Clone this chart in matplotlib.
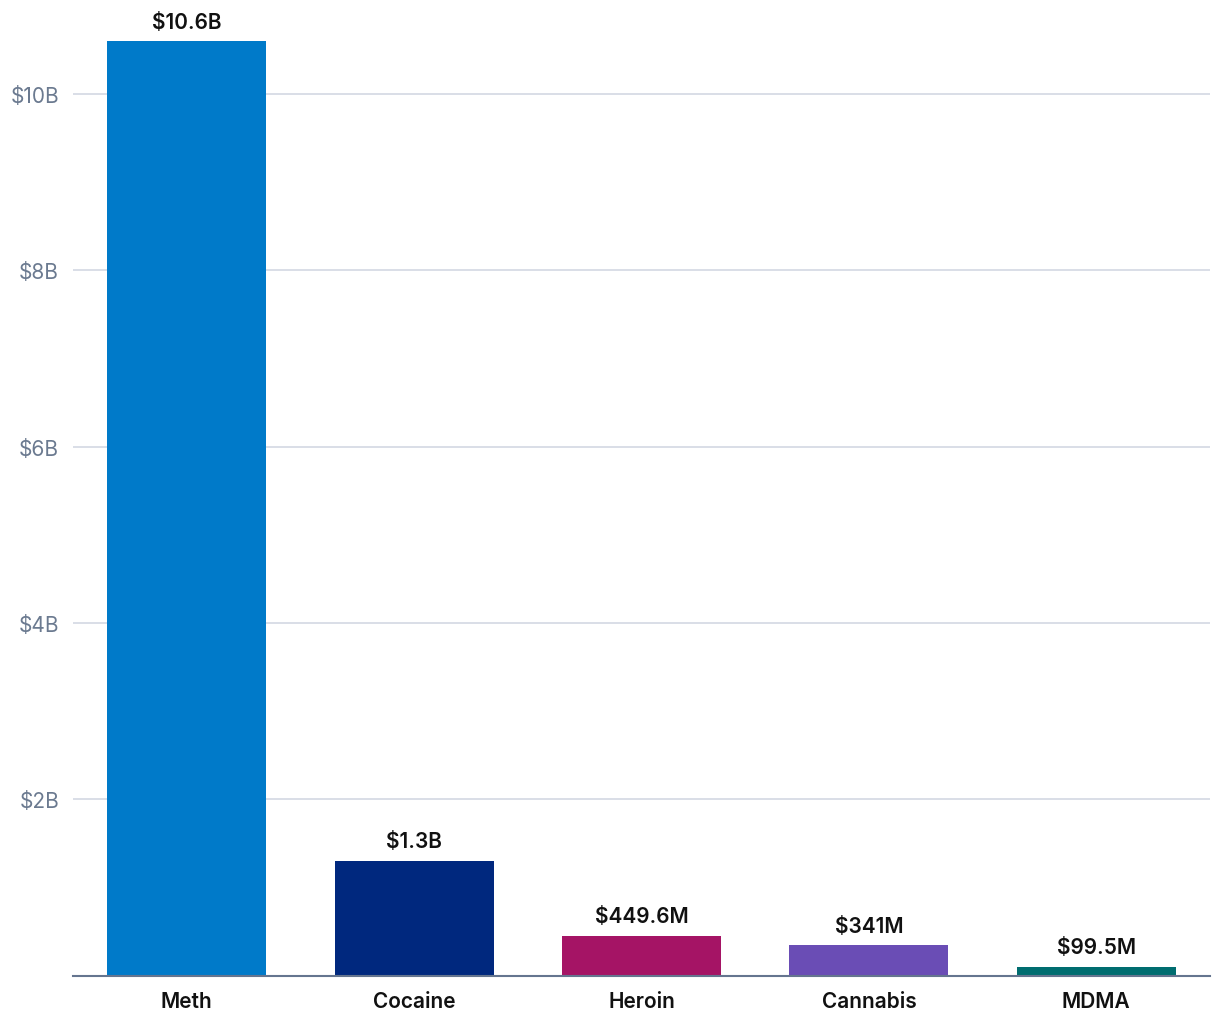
import matplotlib
matplotlib.use("Agg")
import matplotlib.pyplot as plt

# data
drugs = ["Meth", "Cocaine", "Heroin", "Cannabis", "MDMA"]
values_b = [10.6, 1.3, 0.4496, 0.341, 0.0995]
value_labels = ["$10.6B", "$1.3B", "$449.6M", "$341M", "$99.5M"]
bar_colors = ["#007ac9", "#00287e", "#a51465", "#6a4db5", "#006d70"]
yticks = [2, 4, 6, 8, 10]
ytick_labels = ["$2B", "$4B", "$6B", "$8B", "$10B"]

plt.rcParams['font.family'] = ['Inter', 'DejaVu Sans']

fig = plt.figure(figsize=(12.2, 10.2), dpi=100)
ax = fig.add_axes([73/1220, 43.5/1020, 1137/1220, 976.5/1020])

x = range(len(drugs))
ax.bar(x, values_b, width=0.7, color=bar_colors, zorder=3)

for xi, v, lab in zip(x, values_b, value_labels):
    ax.annotate(lab, (xi, v), xytext=(0, 7), textcoords="offset points",
                ha="center", va="bottom", fontsize=15, fontweight="semibold", color="#111111")

ax.set_xlim(-0.5, len(drugs) - 0.5)
ax.set_ylim(0, 11.08)
ax.set_yticks(yticks)
ax.set_yticklabels(ytick_labels, fontsize=15, color="#6b7a90", fontweight="normal")
ax.set_xticks(list(x))
ax.set_xticklabels(drugs, fontsize=15, fontweight="semibold", color="#111111")
ax.tick_params(axis="both", length=0)
ax.tick_params(axis="y", pad=10)
ax.tick_params(axis="x", pad=11)

ax.grid(axis="y", color="#d3d8e3", linewidth=1.2, zorder=0)
for s in ["top", "right", "left"]:
    ax.spines[s].set_visible(False)
ax.spines["bottom"].set_color("#65758f")
ax.spines["bottom"].set_linewidth(1.5)
ax.spines["bottom"].set_zorder(4)

fig.savefig("out.png", dpi=100)
